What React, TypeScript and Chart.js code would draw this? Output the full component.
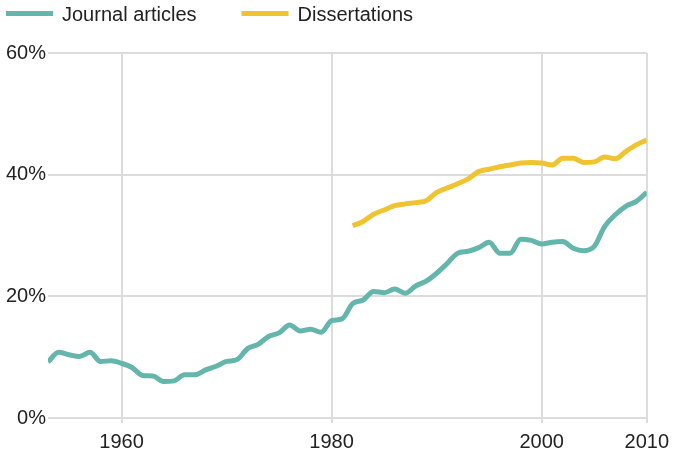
import React, { useEffect, useRef } from "react";
import { Chart, registerables } from "chart.js";

Chart.register(...registerables);

const journalYears = [
  1953, 1954, 1955, 1956, 1957, 1958, 1959, 1960, 1961, 1962, 1963, 1964, 1965, 1966, 1967,
  1968, 1969, 1970, 1971, 1972, 1973, 1974, 1975, 1976, 1977, 1978, 1979, 1980, 1981, 1982,
  1983, 1984, 1985, 1986, 1987, 1988, 1989, 1990, 1991, 1992, 1993, 1994, 1995, 1996, 1997,
  1998, 1999, 2000, 2001, 2002, 2003, 2004, 2005, 2006, 2007, 2008, 2009, 2010,
];
const journalValues = [
  9.2, 10.8, 10.4, 10.1, 10.8, 9.3, 9.4, 9.0, 8.3, 7.0, 6.9, 6.0, 6.1, 7.1, 7.1,
  7.9, 8.5, 9.3, 9.6, 11.4, 12.1, 13.4, 14.0, 15.3, 14.3, 14.6, 14.1, 16.0, 16.3, 18.8,
  19.4, 20.8, 20.6, 21.2, 20.5, 21.7, 22.5, 23.8, 25.4, 27.1, 27.4, 28.0, 28.9, 27.1, 27.1,
  29.4, 29.2, 28.6, 28.9, 29.0, 27.9, 27.5, 28.2, 31.5, 33.4, 34.8, 35.6, 37.1,
];

const dissYears = [
  1982, 1983, 1984, 1985, 1986, 1987, 1988, 1989, 1990, 1991, 1992, 1993, 1994, 1995, 1996,
  1997, 1998, 1999, 2000, 2001, 2002, 2003, 2004, 2005, 2006, 2007, 2008, 2009, 2010,
];
const dissValues = [
  31.6, 32.3, 33.5, 34.2, 34.9, 35.2, 35.4, 35.7, 37.1, 37.8, 38.5, 39.3, 40.5, 40.9, 41.3,
  41.6, 41.9, 42.0, 41.9, 41.6, 42.7, 42.7, 42.0, 42.1, 42.9, 42.6, 43.8, 44.9, 45.7,
];

const xTickYears = [1960, 1980, 2000, 2010];
const yTickValues = [0, 20, 40, 60];
const seriesNames = ["Journal articles", "Dissertations"];
const seriesColors = ["#64b5ab", "#efc430"];

const FONT = "'Liberation Sans', Arial, sans-serif";

const legendPlugin = {
  id: "customLegend",
  afterDraw(chart: any) {
    const ctx = chart.ctx;
    ctx.save();
    ctx.font = `20px ${FONT}`;
    ctx.textBaseline = "alphabetic";
    ctx.textAlign = "left";
    let x = 6;
    chart.data.datasets.forEach((ds: any) => {
      ctx.fillStyle = ds.borderColor;
      ctx.fillRect(x, 11, 47, 5);
      ctx.fillStyle = "#222";
      ctx.fillText(ds.label, x + 56, 21);
      const w = ctx.measureText(ds.label).width;
      x += 56 + w + 45;
    });
    ctx.restore();
  },
};

export default function App() {
  const ref = useRef<HTMLCanvasElement | null>(null);

  useEffect(() => {
    document.body.style.margin = "0";
    if (!ref.current) return;
    const chart = new Chart(ref.current, {
      type: "line",
      data: {
        datasets: [
          {
            label: seriesNames[0],
            data: journalYears.map((y, i) => ({ x: y, y: journalValues[i] })),
            borderColor: seriesColors[0],
            backgroundColor: seriesColors[0],
            borderWidth: 5,
            pointRadius: 0,
            tension: 0.4,
            cubicInterpolationMode: "monotone",
          },
          {
            label: seriesNames[1],
            data: dissYears.map((y, i) => ({ x: y, y: dissValues[i] })),
            borderColor: seriesColors[1],
            backgroundColor: seriesColors[1],
            borderWidth: 5,
            pointRadius: 0,
            tension: 0.4,
            cubicInterpolationMode: "monotone",
          },
        ],
      },
      options: {
        responsive: false,
        animation: false,
        layout: { padding: { top: 53, right: 28, left: 0, bottom: 0 } },
        plugins: {
          legend: { display: false },
          tooltip: { enabled: false },
        },
        scales: {
          x: {
            type: "linear",
            min: 1953,
            max: 2010,
            afterBuildTicks: (scale: any) => {
              scale.ticks = xTickYears.map((v) => ({ value: v }));
            },
            afterFit: (scale: any) => {
              scale.height = 37;
            },
            grid: {
              color: "#dcdcdc",
              lineWidth: 2,
              tickLength: 5,
              drawTicks: true,
            },
            border: { display: false },
            ticks: {
              font: { family: FONT, size: 20 },
              color: "#222",
              padding: 7,
              maxRotation: 0,
              autoSkip: false,
              callback: (v: any) => String(v),
            },
          },
          y: {
            min: 0,
            max: 60,
            afterBuildTicks: (scale: any) => {
              scale.ticks = yTickValues.map((v) => ({ value: v }));
            },
            afterFit: (scale: any) => {
              scale.width = 48;
            },
            grid: {
              color: "#dcdcdc",
              lineWidth: 2,
              drawTicks: false,
            },
            border: { display: false },
            ticks: {
              font: { family: FONT, size: 20 },
              color: "#222",
              padding: 2,
              callback: (v: any) => `${v}%`,
            },
          },
        },
      },
      plugins: [legendPlugin],
    } as any);
    return () => chart.destroy();
  }, []);

  return (
    <div style={{ width: 676, height: 455 }}>
      <canvas ref={ref} width={676} height={455} style={{ display: "block" }} />
    </div>
  );
}
